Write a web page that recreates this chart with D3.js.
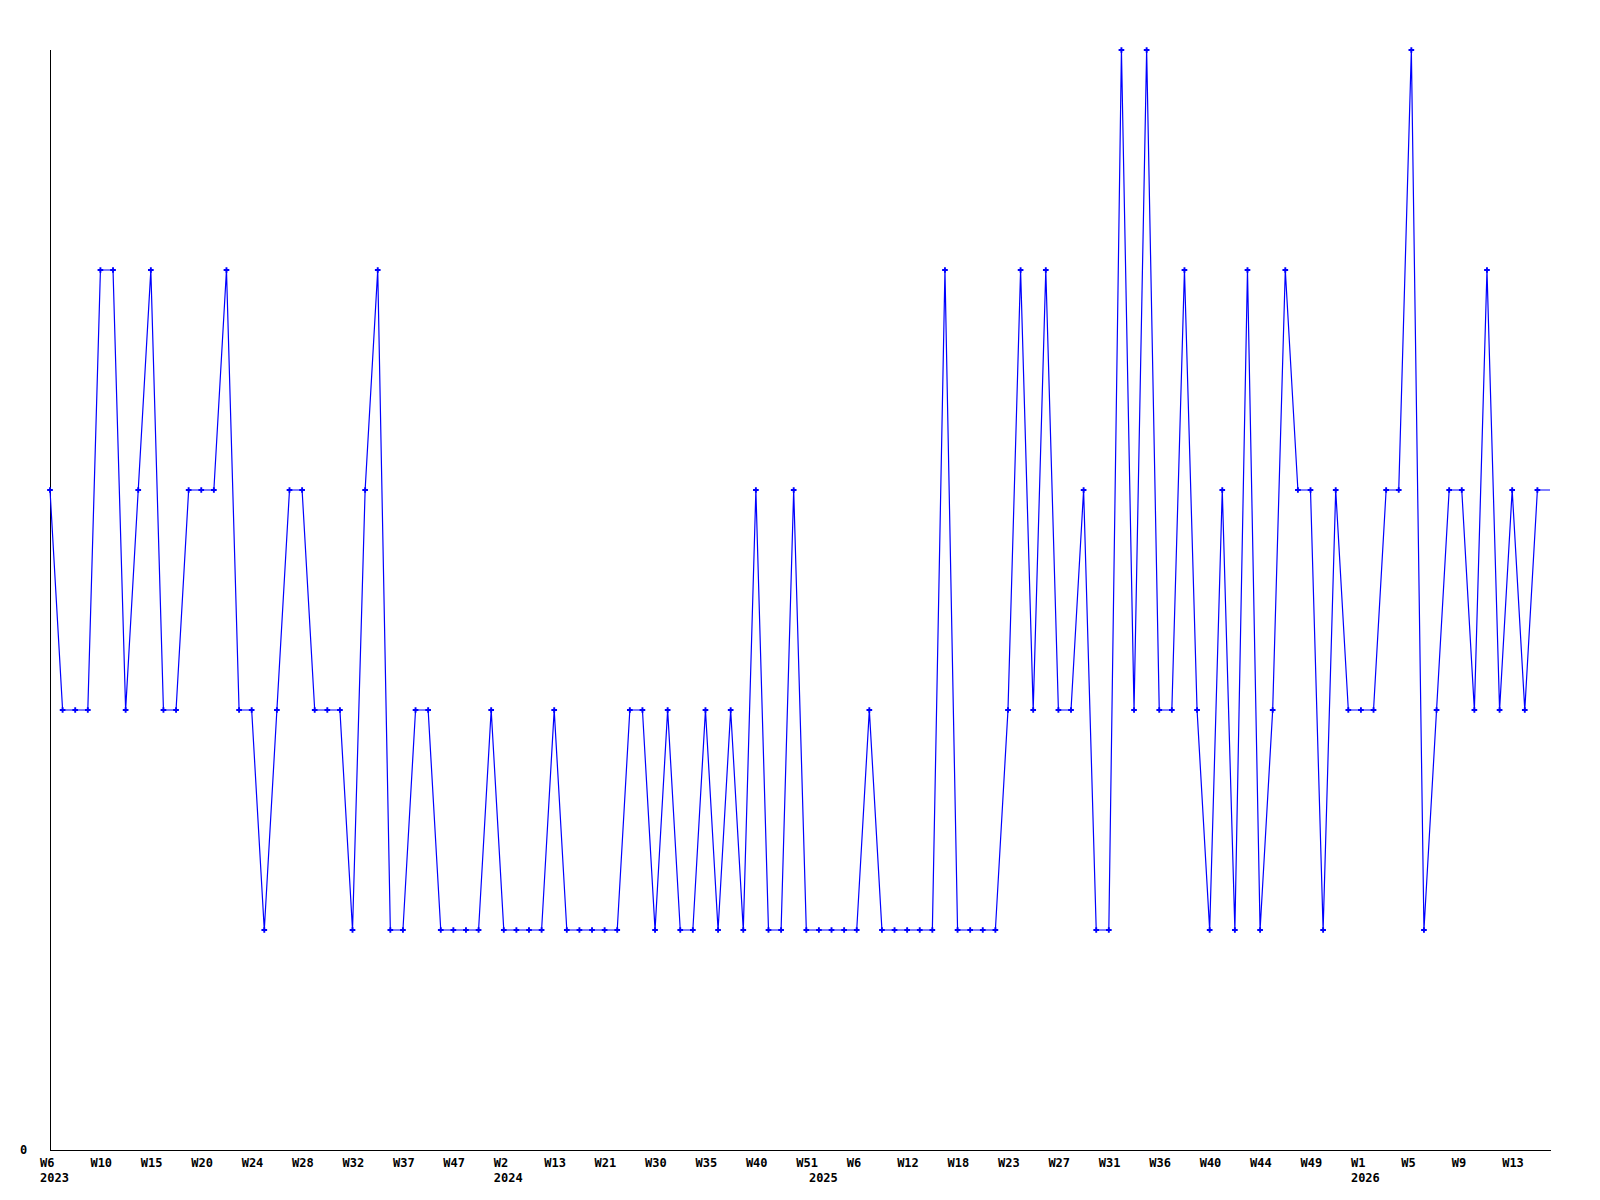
<!DOCTYPE html>
<html>
<head>
<meta charset="utf-8">
<script src="https://cdn.jsdelivr.net/npm/d3@7"></script>
<style>
  body { margin: 0; background: #fff; }
  svg text { font-family: "DejaVu Sans Mono", "Liberation Mono", monospace; font-weight: bold; font-size: 12px; fill: #000; }
</style>
</head>
<body>
<svg width="1600" height="1200"></svg>
<script>
// weekly values, one per point (x is the point index, not the date)
var values = [
  3,2,2,2,4,4,2,3,4,2,
  2,3,3,3,4,2,2,1,2,3,
  3,2,2,2,1,3,4,1,1,2,
  2,1,1,1,1,2,1,1,1,1,
  2,1,1,1,1,1,2,2,1,2,
  1,1,2,1,2,1,3,1,1,3,
  1,1,1,1,1,2,1,1,1,1,
  1,4,1,1,1,1,2,4,2,4,
  2,2,3,1,1,5,2,5,2,2,
  4,2,1,3,1,4,1,2,4,3,
  3,1,3,2,2,2,3,3,5,1,
  2,3,3,2,4,2,3,2,3,3
];

// a week label sits under every 4th point
var weekLabels = ["W6","W10","W15","W20","W24","W28","W32","W37","W47","W2",
                  "W13","W21","W30","W35","W40","W51","W6","W12","W18","W23",
                  "W27","W31","W36","W40","W44","W49","W1","W5","W9","W13"];
var labelStep = 4;

var yearLabels = ["2023","2024","2025","2026"];
var yearIndex  = [0, 36, 61, 104];

var svg = d3.select("svg");

var x = d3.scaleLinear()
    .domain([0, values.length - 1])
    .range([50, 1550]);

var y = d3.scaleLinear()
    .domain([0, 5])
    .range([1150, 50]);

// axes lines
svg.append("line")
    .attr("x1", x(0) + 0.5).attr("x2", x(0) + 0.5)
    .attr("y1", y(5)).attr("y2", y(0) + 0.5)
    .attr("stroke", "#000");

svg.append("line")
    .attr("x1", x(0)).attr("x2", x(values.length - 1) + 1)
    .attr("y1", y(0) + 0.5).attr("y2", y(0) + 0.5)
    .attr("stroke", "#000");

svg.append("text")
    .attr("x", 20)
    .attr("y", y(0) + 4)
    .text("0");

// tick labels
svg.selectAll(".wk")
    .data(weekLabels)
    .enter().append("text")
    .attr("class", "wk")
    .attr("x", function(d, i) { return x(i * labelStep) - 10; })
    .attr("y", y(0) + 17)
    .text(function(d) { return d; });

svg.selectAll(".yr")
    .data(yearLabels)
    .enter().append("text")
    .attr("class", "yr")
    .attr("x", function(d, i) { return x(yearIndex[i]) - 10; })
    .attr("y", y(0) + 32)
    .text(function(d) { return d; });

// the series
var line = d3.line()
    .x(function(d, i) { return x(i); })
    .y(function(d) { return y(d); });

svg.append("path")
    .datum(values)
    .attr("fill", "none")
    .attr("stroke", "#0000ff")
    .attr("stroke-width", 1.2)
    .attr("d", line);

var marker = d3.symbol().type(d3.symbolCross).size(18);

svg.selectAll(".pt")
    .data(values.slice(0, values.length - 1))
    .enter().append("path")
    .attr("class", "pt")
    .attr("transform", function(d, i) { return "translate(" + x(i) + "," + y(d) + ")"; })
    .attr("fill", "#0000ff")
    .attr("d", marker);
</script>
</body>
</html>
